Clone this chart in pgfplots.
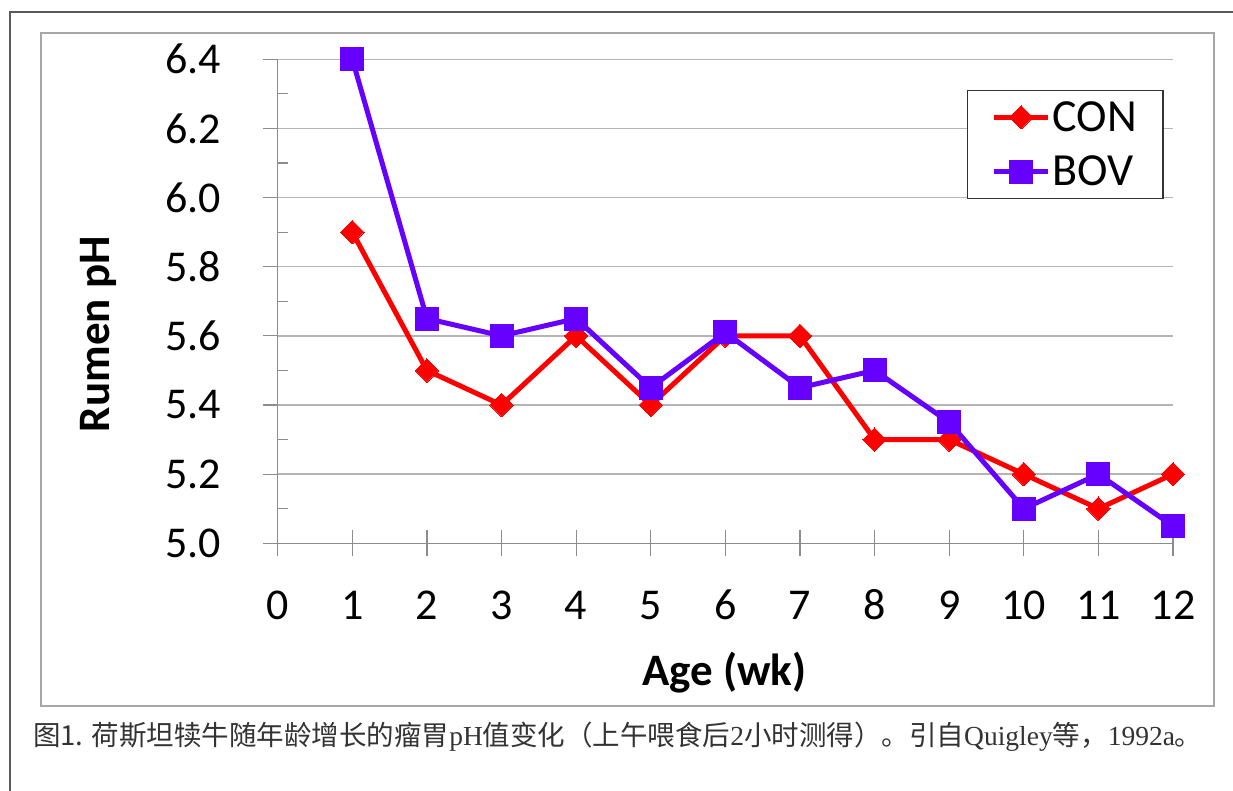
\documentclass[border=0pt]{standalone}
\usepackage{pgfplots}
\pgfplotsset{compat=1.18}
\usepackage{fontspec}
\setmainfont{Carlito}
\newfontfamily\cjk{Noto Sans CJK SC}
\newfontfamily\capserif{Liberation Serif}
\definecolor{conred}{RGB}{255,0,0}
\definecolor{bovpur}{RGB}{102,0,255}
\definecolor{gridgray}{RGB}{180,180,180}
\definecolor{axgray}{RGB}{140,140,140}
\pgfplotstableread{
x y
1 5.90
2 5.50
3 5.40
4 5.60
5 5.40
6 5.60
7 5.60
8 5.30
9 5.30
10 5.20
11 5.10
12 5.20
}\con
\pgfplotstableread{
x y
1 6.40
2 5.65
3 5.60
4 5.65
5 5.45
6 5.61
7 5.45
8 5.50
9 5.35
10 5.10
11 5.20
12 5.05
}\bov
\pgfplotsset{
  base/.style={
    at={(277.7pt,247.7pt)}, anchor=south west,
    scale only axis, width=895.3pt, height=484pt,
    xmin=0, xmax=12, ymin=5, ymax=6.4,
    major tick style={draw=axgray, line width=1.2pt},
    tick label style={font=\fontsize{44}{44}\selectfont},
    label style={font=\fontsize{45}{45}\selectfont},
    /pgf/number format/assume math mode=true,
  }
}
\begin{document}
\begin{tikzpicture}[x=1pt,y=1pt]
\path[use as bounding box] (0,0) rectangle (1233,791);
\fill[white] (0,0) rectangle (1233,791);
\draw[line width=1.5pt, color=black!65] (10,0) -- (10,779) -- (1233,779);
\draw[line width=1.2pt, color=black!35] (41,85) rectangle (1214,758);
% y axis, grid
\begin{axis}[base,
  axis lines=left,
  axis line style={-, draw=axgray, line width=1.2pt},
  x axis line style={-}, y axis line style={-},
  xtick=\empty,
  ytick={5.0,5.2,...,6.4},
  extra y ticks={5.1,5.3,5.5,5.7,5.9,6.1,6.3},
  extra y tick labels={},
  extra y tick style={tick align=inside, major tick length=10pt, grid=none},
  ymajorgrids,
  grid style={draw=gridgray, line width=1.3pt},
  tick align=outside,
  major tick length=15pt,
  yticklabel style={xshift=-38pt, /pgf/number format/.cd, fixed, fixed zerofill, precision=1},
  ylabel={\bfseries Rumen pH},
  ylabel style={at={(axis description cs:-0.2007,0.432)}, anchor=center},
]
\end{axis}
% x axis and data
\begin{axis}[base,
  axis x line=bottom, axis y line=none,
  axis line style={-, draw=axgray, line width=1.2pt},
  x axis line style={-},
  xtick={0,1,...,12},
  tick align=center,
  major tick length=26pt,
  xticklabel style={anchor=base, yshift=-63pt},
  xlabel={\bfseries Age (wk)},
  xlabel style={at={(axis description cs:0.4988,-0.2935)}, anchor=base},
  legend style={at={(rel axis cs:0.770,0.9366)}, anchor=north west,
    draw=black!80, line width=1.2pt, font=\fontsize{46}{46}\selectfont,
    inner xsep=24pt, inner ysep=9pt, row sep=19pt},
  legend cell align=left,
  legend image code/.code={\draw[#1, mark repeat=2, mark phase=2] plot coordinates {(0pt,0pt) (27pt,0pt) (54pt,0pt)};},
]
\addplot[conred, line width=5pt, line join=round, mark=square*, mark size=8.3pt, mark options={rotate=45, line width=0pt}] table[x=x,y=y] {\con};
\addlegendentry{CON}
\addplot[bovpur, line width=5pt, line join=round, mark=square*, mark size=11.5pt, mark options={line width=0pt}] table[x=x,y=y] {\bov};
\addlegendentry{BOV}
\end{axis}
\node[anchor=base west, inner sep=0pt, text=black!80, font=\fontsize{27.5}{27.5}\selectfont] at (33,45)
 {\cjk 图1. 荷斯坦犊牛随年龄增长的瘤胃{\capserif pH}值变化（上午喂食后{\capserif 2}小时测得）。引自{\capserif Quigley}等，{\capserif 1992a}。};
\end{tikzpicture}
\end{document}
